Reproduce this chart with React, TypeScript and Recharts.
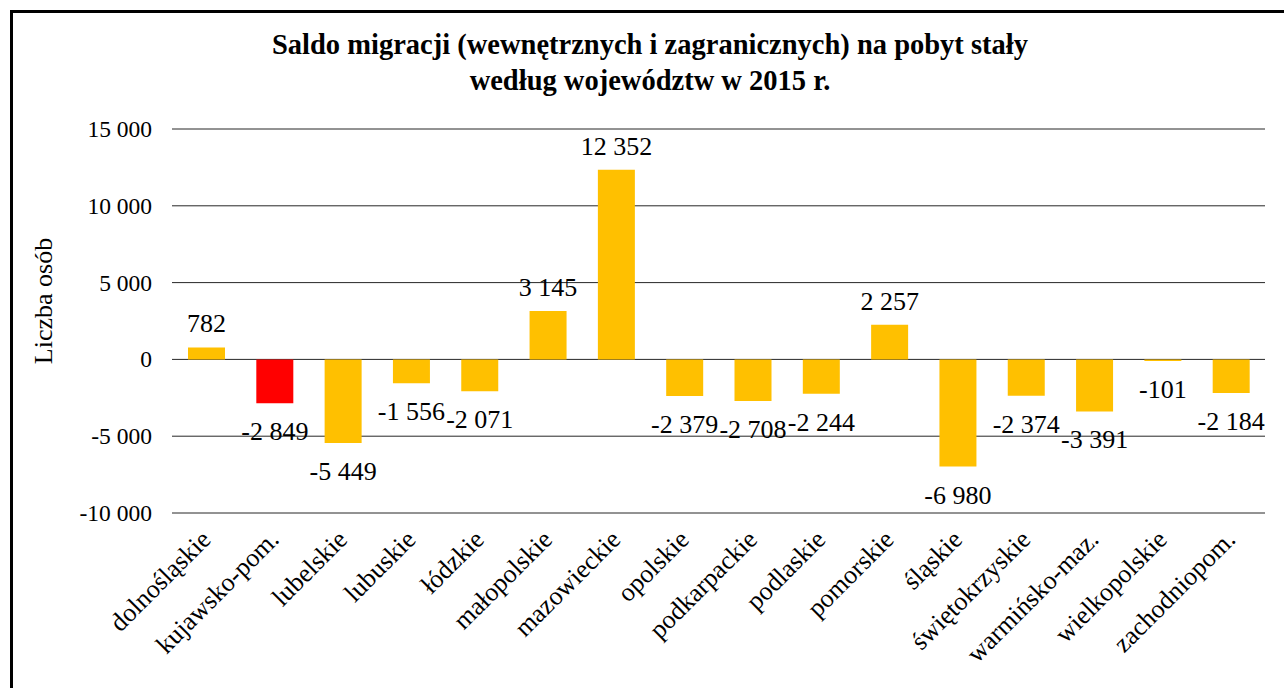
import React from 'react';
import { BarChart, Bar, XAxis, YAxis, CartesianGrid, LabelList, Cell, Label } from 'recharts';

const regions = [
  'dolnośląskie', 'kujawsko-pom.', 'lubelskie', 'lubuskie', 'łódzkie', 'małopolskie',
  'mazowieckie', 'opolskie', 'podkarpackie', 'podlaskie', 'pomorskie', 'śląskie',
  'świętokrzyskie', 'warmińsko-maz.', 'wielkopolskie', 'zachodniopom.',
];
const saldo = [782, -2849, -5449, -1556, -2071, 3145, 12352, -2379, -2708, -2244, 2257, -6980, -2374, -3391, -101, -2184];
const highlighted = ['kujawsko-pom.'];
const yTicks = [-10000, -5000, 0, 5000, 10000, 15000];

const data = regions.map((name, i) => ({ name, value: saldo[i] }));

const FONT = 'Liberation Serif, Times New Roman, serif';

// 12 352 / -2 849 – spacja jako separator tysięcy
const fmt = (v: number) => {
  const s = String(Math.abs(v)).replace(/\B(?=(\d{3})+(?!\d))/g, ' ');
  return v < 0 ? `-${s}` : s;
};

function XTick(props: any) {
  const { x, y, payload } = props;
  return (
    <g transform={`translate(${x + 6},${y + 20})`}>
      <text textAnchor="end" transform="rotate(-45)" style={{ fontFamily: FONT, fontSize: 26 }} fill="#000">
        {payload.value}
      </text>
    </g>
  );
}

function YTick(props: any) {
  const { x, y, payload } = props;
  return (
    <text x={x} y={y} dy={8} textAnchor="end" style={{ fontFamily: FONT, fontSize: 23.5 }} fill="#000">
      {fmt(payload.value)}
    </text>
  );
}

function ValueLabel(props: any) {
  const { x, y, width, height, value } = props;
  const top = Math.min(y, y + height);
  const bottom = Math.max(y, y + height);
  const ty = value >= 0 ? top - 15 : bottom + 37;
  return (
    <text x={x + width / 2} y={ty} textAnchor="middle" style={{ fontFamily: FONT, fontSize: 26 }} fill="#000">
      {fmt(Number(value))}
    </text>
  );
}

export default function App() {
  return (
    <div style={{ position: 'fixed', left: 0, top: 0, width: 1284, height: 688, background: '#fff', fontFamily: FONT }}>
      <div
        style={{
          position: 'absolute', left: 10, top: 10, width: 1300, height: 700,
          border: '3px solid #000', boxSizing: 'border-box',
        }}
      />
      <div
        style={{
          position: 'absolute', left: 0, top: 27, width: 1300, textAlign: 'center',
          fontFamily: FONT, fontWeight: 'bold', fontSize: 28.5, lineHeight: '36px', color: '#000',
        }}
      >
        Saldo migracji (wewnętrznych i zagranicznych) na pobyt stały
        <br />
        według województw w 2015 r.
      </div>
      <BarChart
        width={1284}
        height={688}
        data={data}
        margin={{ top: 129, right: 19, left: 0, bottom: 0 }}
        barSize={37}
        style={{ position: 'absolute', left: 0, top: 0 }}
      >
        <CartesianGrid vertical={false} stroke="#000" strokeOpacity={0.85} />
        <XAxis
          dataKey="name"
          interval={0}
          height={175}
          axisLine={false}
          tickLine={false}
          tick={<XTick />}
        />
        <YAxis
          width={172}
          domain={[-10000, 15000]}
          ticks={yTicks}
          axisLine={false}
          tickLine={false}
          tickMargin={14}
          tick={<YTick />}
        >
          <Label
            content={({ viewBox }: any) => (
              <text
                x={viewBox.x + 52}
                y={viewBox.y + viewBox.height / 2 - 20}
                transform={`rotate(-90, ${viewBox.x + 52}, ${viewBox.y + viewBox.height / 2 - 20})`}
                textAnchor="middle"
                style={{ fontFamily: FONT, fontSize: 26 }}
                fill="#000"
              >
                Liczba osób
              </text>
            )}
          />
        </YAxis>
        <Bar dataKey="value" isAnimationActive={false}>
          {data.map((d) => (
            <Cell key={d.name} fill={highlighted.includes(d.name) ? '#FF0000' : '#FFC000'} />
          ))}
          <LabelList dataKey="value" content={<ValueLabel />} />
        </Bar>
      </BarChart>
    </div>
  );
}
